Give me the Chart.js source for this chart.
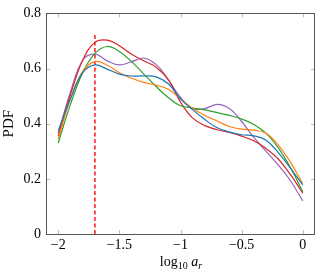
<!DOCTYPE html>
<html>
<head>
<meta charset="utf-8">
<script src="https://cdn.jsdelivr.net/npm/chart.js@4"></script>
<style>
  html, body { margin: 0; padding: 0; background: #fff; }
  #wrap { position: relative; width: 316px; height: 276px; }
  #xlabel {
    position: absolute; left: 120px; width: 122px; top: 255px;
    text-align: center; font: 14px "Liberation Serif", serif; line-height: 14px; color: #000;
  }
  #xlabel sub { font-size: 10px; vertical-align: -3px; line-height: 0; }
</style>
</head>
<body>
<div id="wrap">
  <canvas id="myChart" width="316" height="276"></canvas>
  <div id="xlabel">log<sub>10</sub> <i>a<sub>r</sub></i></div>
</div>
<script>
// valores
const xs = [-2, -1.9, -1.8, -1.7, -1.6, -1.5, -1.4, -1.3, -1.2, -1.1, -1, -0.9, -0.8, -0.7, -0.6, -0.5, -0.4, -0.3, -0.2, -0.1, 0];
const blueVals   = [0.375, 0.49, 0.585, 0.613, 0.598, 0.58, 0.573, 0.573, 0.57, 0.545, 0.49, 0.45, 0.415, 0.385, 0.37, 0.36, 0.356, 0.34, 0.295, 0.238, 0.178];
const orangeVals = [0.345, 0.49, 0.59, 0.625, 0.612, 0.585, 0.565, 0.55, 0.54, 0.525, 0.49, 0.455, 0.43, 0.41, 0.39, 0.38, 0.377, 0.365, 0.322, 0.26, 0.183];
const greenVals  = [0.33, 0.47, 0.585, 0.655, 0.68, 0.662, 0.625, 0.58, 0.535, 0.495, 0.465, 0.457, 0.45, 0.44, 0.43, 0.417, 0.397, 0.365, 0.312, 0.24, 0.153];
const redVals    = [0.355, 0.505, 0.63, 0.695, 0.703, 0.683, 0.652, 0.628, 0.605, 0.56, 0.478, 0.42, 0.393, 0.378, 0.368, 0.355, 0.338, 0.31, 0.272, 0.215, 0.148];
const purpleVals = [0.365, 0.515, 0.63, 0.652, 0.628, 0.613, 0.625, 0.638, 0.615, 0.56, 0.495, 0.455, 0.455, 0.47, 0.455, 0.408, 0.35, 0.3, 0.25, 0.193, 0.12];
const refX = -1.7;
const refTop = 0.73;
const xTicks = [-2, -1.5, -1, -0.5, 0];
const yTicks = [0, 0.2, 0.4, 0.6, 0.8];

const minus = v => String(v).replace('-', '\u2212');
const pts = vals => xs.map((x, i) => ({x: x, y: vals[i]}));

function curve(vals, color) {
  return {
    data: pts(vals),
    borderColor: color,
    borderWidth: 1.2,
    pointRadius: 0,
    tension: 0.4,
    fill: false
  };
}

// marcas dos ticks para dentro e moldura, estilo pgfplots
const frame = {
  id: 'frame',
  beforeDatasetsDraw(chart) {
    const c = chart.ctx, a = chart.chartArea;
    const sx = chart.scales.x, sy = chart.scales.y;
    c.save();
    c.strokeStyle = '#bdbdbd';
    c.lineWidth = 1;
    c.beginPath();
    sx.ticks.forEach(t => {
      const p = Math.round(sx.getPixelForValue(t.value)) + 0.5;
      c.moveTo(p, a.bottom); c.lineTo(p, a.bottom - 4);
      c.moveTo(p, a.top); c.lineTo(p, a.top + 4);
    });
    sy.ticks.forEach(t => {
      const p = Math.round(sy.getPixelForValue(t.value)) + 0.5;
      c.moveTo(a.left, p); c.lineTo(a.left + 4, p);
      c.moveTo(a.right, p); c.lineTo(a.right - 4, p);
    });
    c.stroke();
    c.restore();
  },
  afterDraw(chart) {
    const c = chart.ctx, a = chart.chartArea;
    c.save();
    c.strokeStyle = '#555';
    c.lineWidth = 1;
    c.strokeRect(Math.round(a.left) + 0.5, Math.round(a.top) + 0.5,
      Math.round(a.right - a.left) - 1, Math.round(a.bottom - a.top));
    c.restore();
  }
};

const ctx = document.getElementById('myChart');
new Chart(ctx, {
  type: 'line',
  data: {
    datasets: [
      curve(blueVals, '#1f77b4'),
      curve(orangeVals, '#ff7f0e'),
      curve(greenVals, '#2ca02c'),
      curve(redVals, '#d62728'),
      curve(purpleVals, '#9467bd'),
      {
        data: [{x: refX, y: 0}, {x: refX, y: refTop}],
        borderColor: '#ff3b3b',
        borderWidth: 1.8,
        borderDash: [4, 2.5],
        pointRadius: 0,
        tension: 0
      }
    ]
  },
  options: {
    responsive: false,
    animation: false,
    layout: { padding: { top: 9, right: 1, left: 0, bottom: 0 } },
    plugins: { legend: { display: false }, tooltip: { enabled: false } },
    scales: {
      x: {
        type: 'linear',
        min: -2.1, max: 0.1,
        afterBuildTicks: s => { s.ticks = xTicks.map(v => ({value: v})); },
        afterFit: s => { s.height = 42; },
        grid: { display: false, drawTicks: false },
        border: { display: false },
        ticks: {
          padding: 3,
          color: '#000',
          font: { family: 'Liberation Serif', size: 14 },
          callback: v => minus(v)
        }
      },
      y: {
        min: 0, max: 0.8,
        afterBuildTicks: s => { s.ticks = yTicks.map(v => ({value: v})); },
        afterFit: s => { s.width = 46; },
        grid: { display: false, drawTicks: false },
        border: { display: false },
        title: {
          display: true, text: 'PDF', color: '#000',
          font: { family: 'Liberation Serif', size: 15 },
          padding: { top: 0, bottom: 0 }
        },
        ticks: {
          padding: 5,
          color: '#000',
          font: { family: 'Liberation Serif', size: 14 },
          callback: v => minus(v)
        }
      }
    }
  },
  plugins: [frame]
});
</script>
</body>
</html>
